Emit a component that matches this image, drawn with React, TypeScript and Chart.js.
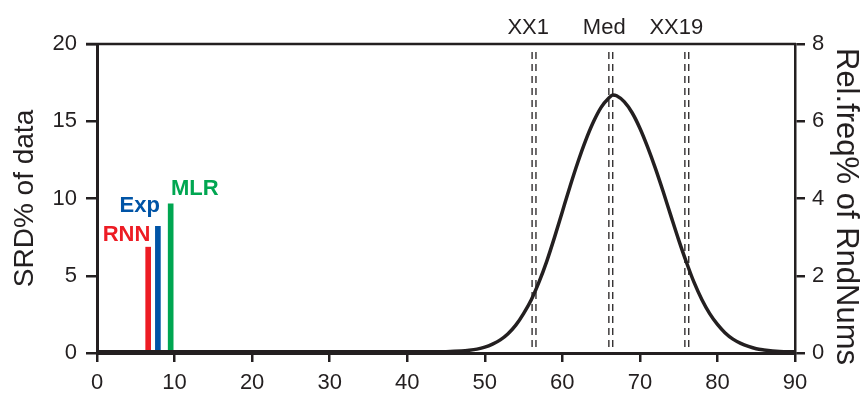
import React, { useEffect, useRef } from 'react';
import { Chart, registerables } from 'chart.js';

Chart.register(...registerables);

// ---- data ----
const modelNames = ['RNN', 'Exp', 'MLR'];
const modelX = [6.6, 7.85, 9.5];
const modelSRD = [6.85, 8.2, 9.65];
const modelColors = ['#ED1C24', '#0054A6', '#00A651'];
const modelLabelX = [3.8, 5.5, 12.6];
const modelLabelY = [7.65, 9.5, 10.65];

const curveX = [0, 10, 20, 30, 40, 45, 47, 48, 49, 50, 51, 52, 53, 54, 55, 56, 57, 58, 59, 60, 61, 62, 63, 64, 65, 66, 66.5, 67, 68, 69, 70, 71, 72, 73, 74, 75, 76, 77, 78, 79, 80, 81, 82, 83, 84, 85, 86, 88, 90];
const curveFreq = [0.03, 0.03, 0.03, 0.03, 0.03, 0.035, 0.05, 0.07, 0.1, 0.15, 0.23, 0.34, 0.5, 0.72, 1.02, 1.38, 1.84, 2.38, 3.0, 3.66, 4.32, 4.94, 5.5, 5.98, 6.36, 6.6, 6.68, 6.66, 6.5, 6.22, 5.82, 5.33, 4.78, 4.18, 3.55, 2.93, 2.35, 1.82, 1.38, 1.02, 0.74, 0.52, 0.36, 0.25, 0.17, 0.11, 0.08, 0.04, 0.03];

const markerNames = ['XX1', 'Med', 'XX19'];
const markerLabelX = [55.6, 65.4, 74.7];
const markerLineX = [56.1, 56.6, 66.0, 66.5, 75.8, 76.3];

const xMin = 0, xMax = 90, xStep = 10;
const yMin = 0, yMax = 20, yStep = 5;
const y1Min = 0, y1Max = 8, y1Step = 2;

const leftTitle = 'SRD% of data';
const rightTitle = 'Rel.freq% of RndNums';

const INK = '#231f20';
const FONT = "'Liberation Sans', Arial, Helvetica, sans-serif";

const overlayPlugin = {
  id: 'overlay',
  beforeDatasetsDraw(chart: any) {
    const { ctx, chartArea, scales } = chart;
    ctx.save();
    ctx.strokeStyle = INK;
    ctx.lineWidth = 1.3;
    ctx.setLineDash([7, 5]);
    markerLineX.forEach((v) => {
      const px = scales.x.getPixelForValue(v);
      ctx.beginPath();
      ctx.moveTo(px, chartArea.top + 8);
      ctx.lineTo(px, chartArea.bottom);
      ctx.stroke();
    });
    ctx.restore();
  },
  afterDraw(chart: any) {
    const { ctx, chartArea, scales } = chart;
    ctx.save();
    // top frame line
    ctx.strokeStyle = INK;
    ctx.lineWidth = 2.5;
    ctx.beginPath();
    ctx.moveTo(chartArea.left - 11, chartArea.top);
    ctx.lineTo(chartArea.right + 1, chartArea.top);
    ctx.stroke();
    // marker labels
    ctx.fillStyle = INK;
    ctx.font = `22px ${FONT}`;
    ctx.textAlign = 'center';
    ctx.textBaseline = 'middle';
    markerNames.forEach((n, i) => {
      ctx.fillText(n, scales.x.getPixelForValue(markerLabelX[i]), chartArea.top - 16);
    });
    // model labels
    ctx.font = `bold 22px ${FONT}`;
    modelNames.forEach((n, i) => {
      ctx.fillStyle = modelColors[i];
      ctx.fillText(n, scales.x.getPixelForValue(modelLabelX[i]), scales.y.getPixelForValue(modelLabelY[i]));
    });
    // right axis title
    ctx.fillStyle = INK;
    ctx.font = `31px ${FONT}`;
    ctx.translate(chart.width - 16, (chartArea.top + chartArea.bottom) / 2 + 8);
    ctx.rotate(Math.PI / 2);
    ctx.fillText(rightTitle, 0, 0);
    ctx.restore();
  },
};

export default function App() {
  const ref = useRef<HTMLCanvasElement | null>(null);
  useEffect(() => {
    if (!ref.current) return;
    const chart = new Chart(ref.current, {
      type: 'bar',
      data: {
        datasets: [
          {
            type: 'bar',
            data: modelX.map((x, i) => ({ x, y: modelSRD[i] })),
            backgroundColor: modelColors,
            barThickness: 5,
            xAxisID: 'x',
            yAxisID: 'y',
            order: 2,
          } as any,
          {
            type: 'line',
            data: curveX.map((x, i) => ({ x, y: curveFreq[i] })),
            borderColor: INK,
            borderWidth: 3.5,
            pointRadius: 0,
            cubicInterpolationMode: 'monotone',
            fill: false,
            xAxisID: 'x',
            yAxisID: 'y1',
            order: 1,
          } as any,
        ],
      },
      options: {
        animation: false,
        responsive: false,
        maintainAspectRatio: false,
        events: [],
        layout: { padding: { top: 44, left: 0, right: 0, bottom: 0 } },
        plugins: { legend: { display: false }, tooltip: { enabled: false } },
        scales: {
          x: {
            type: 'linear',
            min: xMin,
            max: xMax,
            offset: false,
            afterFit: (s: any) => { s.height = 44; },
            ticks: { stepSize: xStep, color: INK, font: { size: 22, family: FONT }, padding: 8, maxRotation: 0 },
            grid: { display: true, drawOnChartArea: false, drawTicks: true, tickLength: 9, color: INK, lineWidth: 2.5, offset: false },
            border: { display: true, color: INK, width: 3 },
          },
          y: {
            type: 'linear',
            position: 'left',
            min: yMin,
            max: yMax,
            afterFit: (s: any) => { s.width = 97; },
            ticks: { stepSize: yStep, color: INK, font: { size: 22, family: FONT }, padding: 9 },
            grid: { display: true, drawOnChartArea: false, drawTicks: true, tickLength: 11, color: INK, lineWidth: 2.5 },
            border: { display: true, color: INK, width: 3 },
            title: { display: true, text: leftTitle, color: INK, font: { size: 28, family: FONT }, padding: { top: 8, bottom: 0 } },
          },
          y1: {
            type: 'linear',
            position: 'right',
            min: y1Min,
            max: y1Max,
            afterFit: (s: any) => { s.width = 67; },
            ticks: { stepSize: y1Step, color: INK, font: { size: 22, family: FONT }, padding: 7 },
            grid: { display: true, drawOnChartArea: false, drawTicks: true, tickLength: 10, color: INK, lineWidth: 2.5 },
            border: { display: true, color: INK, width: 2.5 },
          },
        },
      } as any,
      plugins: [overlayPlugin],
    });
    return () => chart.destroy();
  }, []);
  return (
    <div style={{ position: 'fixed', left: 0, top: 0, width: 862, height: 397, background: '#fff' }}>
      <canvas ref={ref} width={862} height={397} style={{ display: 'block', width: 862, height: 397 }} />
    </div>
  );
}
